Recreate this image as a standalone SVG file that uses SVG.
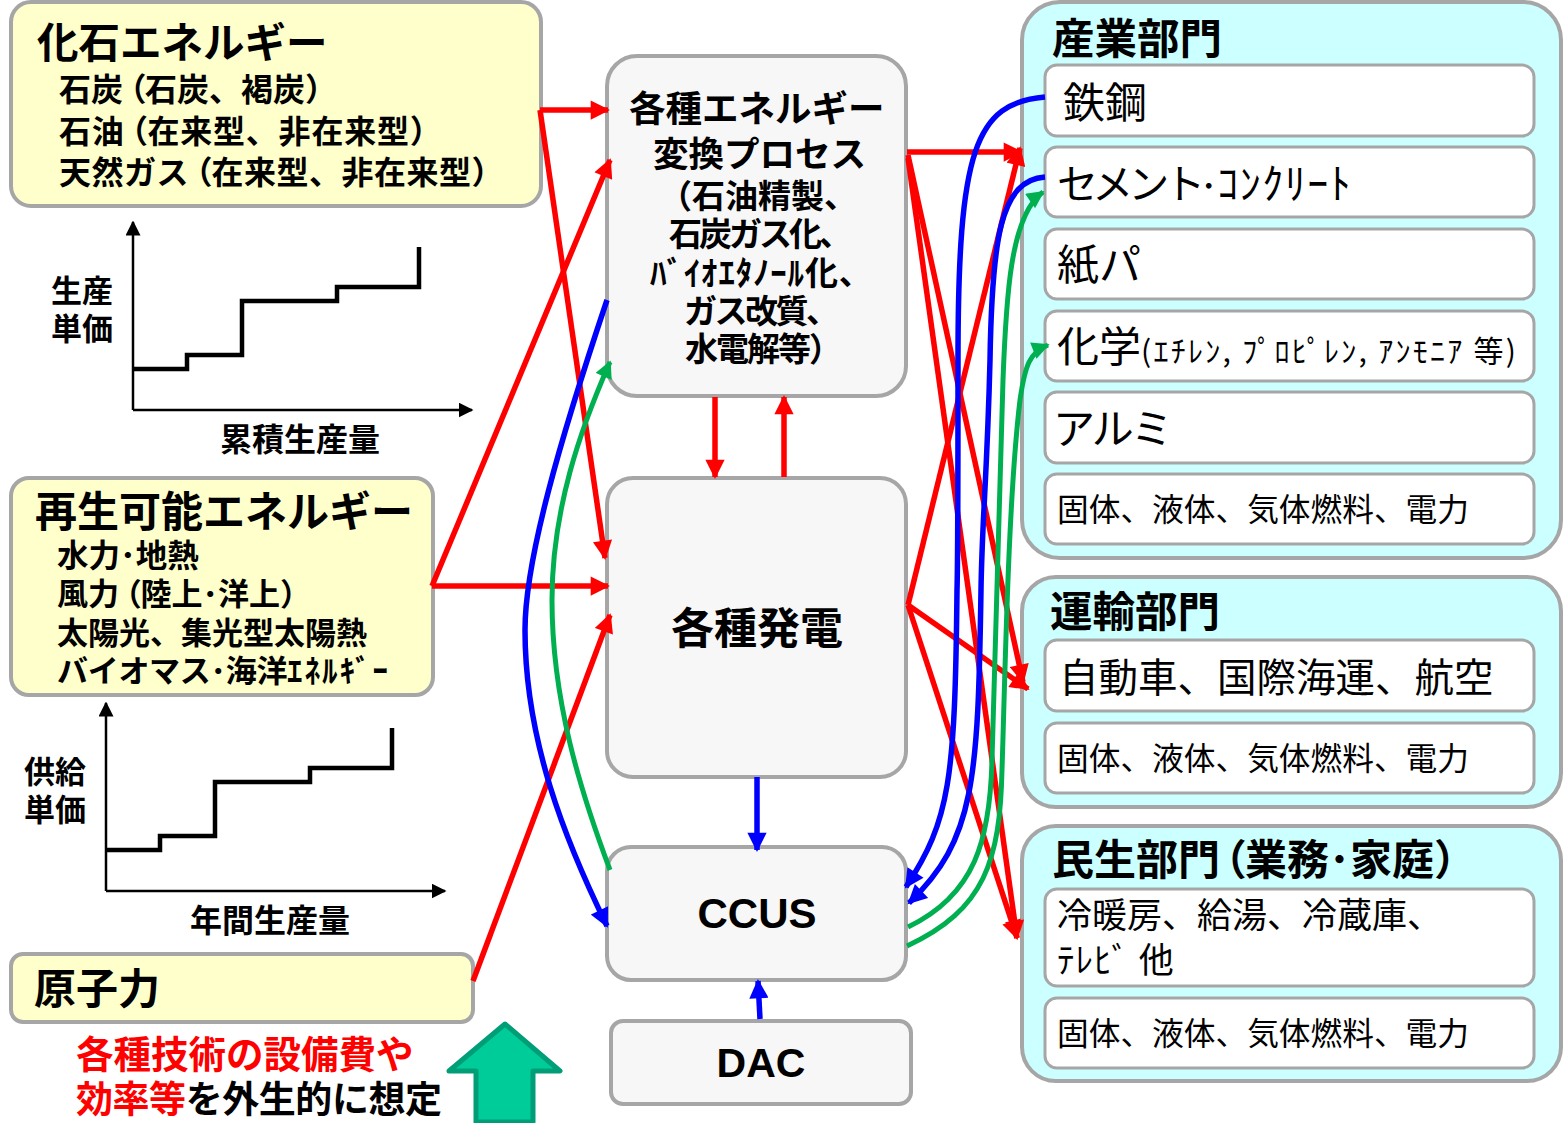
<svg xmlns="http://www.w3.org/2000/svg" width="1566" height="1123" viewBox="0 0 1566 1123">
<style>
text{font-family:"Noto Sans CJK JP","Liberation Sans",sans-serif;fill:#000}
.b{font-weight:700}
.lat{font-family:"Liberation Sans",sans-serif;font-weight:700}
.y rect{fill:#FFFFCC;stroke:#A6A6A6;stroke-width:4}
.g rect{fill:#F7F7F7;stroke:#A6A6A6;stroke-width:4}
.c rect{fill:#CCFFFF;stroke:#A6A6A6;stroke-width:4}
.w rect{fill:#fff;stroke:#A6A6A6;stroke-width:3}
.m{text-anchor:middle}
.p{font-feature-settings:"palt"}
.r,.bl{fill:none;stroke-width:5.5}
.gr{fill:none;stroke-width:5}
.r{stroke:#FF0000}.bl{stroke:#0000FF}.gr{stroke:#00B050}
.ax{fill:none;stroke:#000;stroke-width:2.5}
.st{fill:none;stroke:#000;stroke-width:4.5}
.fuel{font-size:31.7px}
</style>
<defs>
<marker id="ar" viewBox="0 0 10 10" refX="9" refY="5" markerWidth="3.7" markerHeight="3.5" orient="auto"><path d="M0,0L10,5L0,10Z" fill="#FF0000"/></marker>
<marker id="ab" viewBox="0 0 10 10" refX="9" refY="5" markerWidth="3.7" markerHeight="3.5" orient="auto"><path d="M0,0L10,5L0,10Z" fill="#0000FF"/></marker>
<marker id="ag" viewBox="0 0 10 10" refX="9" refY="5" markerWidth="3.7" markerHeight="3.5" orient="auto"><path d="M0,0L10,5L0,10Z" fill="#00B050"/></marker>
<marker id="ak" viewBox="0 0 10 10" refX="9" refY="5" markerWidth="6" markerHeight="6" orient="auto"><path d="M0,0L10,5L0,10Z" fill="#000"/></marker>
</defs>

<g id="fossil" class="y"><rect x="11" y="2" width="530" height="204" rx="20"/>
<text class="b" x="37" y="58" font-size="41.5">化石エネルギー</text>
<text class="b" x="59" y="101" font-size="32">石炭<tspan class="p" dx="6">（</tspan>石炭、褐炭）</text>
<text class="b" x="59" y="143" font-size="32" letter-spacing=".8">石油<tspan class="p" dx="6">（</tspan>在来型、非在来型）</text>
<text class="b" x="59" y="184" font-size="32" letter-spacing=".5">天然ガス<tspan class="p" dx="6">（</tspan>在来型、非在来型）</text></g>

<g id="chart1"><path class="ax" d="M133,410V222" marker-end="url(#ak)"/><path class="ax" d="M133,410H472" marker-end="url(#ak)"/>
<path class="st" d="M133,369H187V355H242V301H337V287H419V247"/>
<text class="b" x="51" y="302" font-size="31">生産</text>
<text class="b" x="51" y="340" font-size="31">単価</text>
<text class="b" x="220" y="451" font-size="32">累積生産量</text></g>

<g id="renewable" class="y"><rect x="11" y="478" width="422" height="217" rx="18"/>
<text class="b" x="35" y="527" font-size="42">再生可能エネルギー</text>
<text class="b" x="57" y="567" font-size="31.5">水力･地熱</text>
<text class="b" x="57" y="605" font-size="31">風力<tspan class="p" dx="6">（</tspan>陸上･洋上）</text>
<text class="b" x="57" y="644" font-size="31">太陽光、集光型太陽熱</text>
<text class="b" x="57" y="682" font-size="31" letter-spacing="-.3">バイオマス･海洋<tspan letter-spacing="2">ｴﾈﾙｷﾞｰ</tspan></text></g>

<g id="chart2"><path class="ax" d="M106,891V703" marker-end="url(#ak)"/><path class="ax" d="M106,891H445" marker-end="url(#ak)"/>
<path class="st" d="M106,850H160V836H215V782H310V768H392V728"/>
<text class="b" x="24" y="783" font-size="31">供給</text>
<text class="b" x="24" y="821" font-size="31">単価</text>
<text class="b" x="190" y="932" font-size="32">年間生産量</text></g>

<g id="nuclear" class="y"><rect x="11" y="954" width="462" height="68" rx="12"/>
<text class="b" x="34" y="1004" font-size="42">原子力</text></g>

<g id="note"><text class="b" x="76" y="1068" font-size="37.5" style="fill:#FF0000">各種技術の設備費や</text>
<text class="b" x="76" y="1113" font-size="37" textLength="366"><tspan style="fill:#FF0000">効率等</tspan>を外生的に想定</text>
<polygon points="505,1024 560,1071 533,1071 533,1122 476,1122 476,1071 449,1071" fill="#00CC99" stroke="#009E77" stroke-width="5" stroke-linejoin="round"/></g>

<g id="conv" class="g"><rect x="607" y="56" width="299" height="340" rx="30"/>
<text class="b" x="629" y="122" font-size="36.5">各種エネルギー</text>
<text class="b" x="653" y="167" font-size="35.5">変換プロセス</text>
<text class="b" x="659" y="208" font-size="33">（石油精製、</text>
<text class="b" x="669" y="246" font-size="33" letter-spacing="-3">石炭ガス化、</text>
<text class="b" x="650" y="285" font-size="33" letter-spacing=".8">ﾊﾞｲｵｴﾀﾉｰﾙ化、</text>
<text class="b" x="684" y="323" font-size="33" letter-spacing="-2.5">ガス改質、</text>
<text class="b" x="685" y="361" font-size="33" letter-spacing="-2">水電解等）</text></g>
<g id="power" class="g"><rect x="607" y="478" width="299" height="299" rx="26"/>
<text class="b m" x="757" y="644" font-size="43">各種発電</text></g>
<g id="ccus" class="g"><rect x="607" y="847" width="299" height="133" rx="24"/>
<text class="lat m" x="757" y="928" font-size="42">CCUS</text></g>
<g id="dac" class="g"><rect x="611" y="1021" width="300" height="83" rx="12"/>
<text class="lat m" x="761" y="1077" font-size="41">DAC</text></g>

<g id="industry" class="c"><rect x="1022" y="2" width="539" height="556" rx="38"/>
<text class="b" x="1052" y="54" font-size="42.5">産業部門</text></g>
<g id="i1" class="w"><rect x="1045" y="65" width="489" height="71" rx="12"/><text x="1063" y="118" font-size="42">鉄鋼</text></g>
<g id="i2" class="w"><rect x="1045" y="147" width="489" height="70" rx="12"/><text x="1057" y="199" font-size="41" letter-spacing="-5">セメント<tspan font-size="34" letter-spacing="0">･</tspan><tspan font-size="42" letter-spacing="1.5">ｺﾝｸﾘｰﾄ</tspan></text></g>
<g id="i3" class="w"><rect x="1045" y="229" width="489" height="70" rx="12"/><text x="1057" y="280" font-size="42">紙パ</text></g>
<g id="i4" class="w"><rect x="1045" y="311" width="489" height="70" rx="12"/><text x="1057" y="362" font-size="42">化学</text><text x="1141" y="362" font-size="30" textLength="375">(ｴﾁﾚﾝ, ﾌﾟﾛﾋﾟﾚﾝ, ｱﾝﾓﾆｱ 等)</text></g>
<g id="i5" class="w"><rect x="1045" y="392" width="489" height="71" rx="12"/><text x="1053" y="444" font-size="42" textLength="120">アルミ</text></g>
<g id="i6" class="w"><rect x="1045" y="474" width="489" height="70" rx="12"/><text class="fuel" x="1057" y="521">固体、液体、気体燃料、電力</text></g>

<g id="transport" class="c"><rect x="1022" y="577" width="539" height="230" rx="34"/>
<text class="b" x="1050" y="627" font-size="42.5">運輸部門</text></g>
<g id="t1" class="w"><rect x="1045" y="640" width="489" height="71" rx="12"/><text x="1059" y="692" font-size="39.5">自動車、国際海運、航空</text></g>
<g id="t2" class="w"><rect x="1045" y="723" width="489" height="70" rx="12"/><text class="fuel" x="1057" y="770">固体、液体、気体燃料、電力</text></g>

<g id="civil" class="c"><rect x="1022" y="826" width="539" height="255" rx="34"/>
<text class="b" x="1052" y="875" font-size="42">民生部門<tspan class="p" dx="4">（</tspan>業務･家庭）</text></g>
<g id="c1" class="w"><rect x="1045" y="889" width="489" height="97" rx="12"/><text x="1057" y="928" font-size="35">冷暖房、給湯、冷蔵庫、</text><text x="1057" y="973" font-size="35" letter-spacing="1">ﾃﾚﾋﾞ 他</text></g>
<g id="c2" class="w"><rect x="1045" y="998" width="489" height="70" rx="12"/><text class="fuel" x="1057" y="1045">固体、液体、気体燃料、電力</text></g>

<g id="connectors">
<path class="r" d="M540,110H608" marker-end="url(#ar)"/>
<path class="r" d="M540,110L605,558" marker-end="url(#ar)"/>
<path class="r" d="M432,586L610,160" marker-end="url(#ar)"/>
<path class="r" d="M432,586H608" marker-end="url(#ar)"/>
<path class="r" d="M473,981L610,615" marker-end="url(#ar)"/>
<path class="r" d="M715,397V477" marker-end="url(#ar)"/>
<path class="r" d="M784,477V397" marker-end="url(#ar)"/>
<path class="r" d="M907,152H1021" marker-end="url(#ar)"/>
<path class="r" d="M908,155L1023,682" marker-end="url(#ar)"/>
<path class="r" d="M908,158L1017,938" marker-end="url(#ar)"/>
<path class="r" d="M908,605L1020,148" marker-end="url(#ar)"/>
<path class="r" d="M908,605L1028,689" marker-end="url(#ar)"/>
<path class="r" d="M908,605L1017,938" marker-end="url(#ar)"/>
<path class="bl" d="M757,777V850" marker-end="url(#ab)"/>
<path class="bl" d="M760,1019L758,981" marker-end="url(#ab)"/>
<path class="bl" d="M607,300C560,440 525,560 525,630C525,740 565,840 607,926" marker-end="url(#ab)"/>
<path class="gr" d="M610,870C580,790 552,700 552,600C552,510 580,430 610,362" marker-end="url(#ag)"/>
<path class="bl" d="M1045,97C975,103 958,150 958,360C958,480 958,560 957,590C955,780 950,820 906,887" marker-end="url(#ab)"/>
<path class="bl" d="M1045,177C1000,180 992,240 990,360C987,480 982,520 981,590C978,780 975,840 909,903" marker-end="url(#ab)"/>
<path class="gr" d="M908,927C975,895 990,840 992,760C995,680 998,540 1003,380C1006,300 1010,215 1043,192" marker-end="url(#ag)"/>
<path class="gr" d="M907,946C985,910 1000,860 1002,770C1005,680 1008,500 1020,400C1025,365 1030,352 1048,345" marker-end="url(#ag)"/>
</g>
</svg>
